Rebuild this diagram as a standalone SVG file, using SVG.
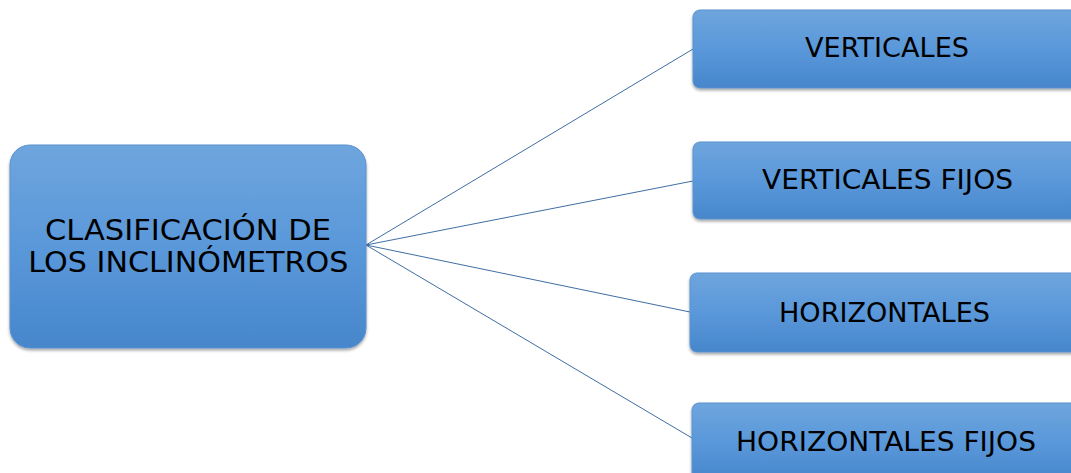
<svg xmlns="http://www.w3.org/2000/svg" width="1071" height="473" viewBox="0 0 1071 473">
  <defs>
    <linearGradient id="fill" x1="0" y1="0" x2="0" y2="1">
      <stop offset="0" stop-color="#6ea5dd"/>
      <stop offset="0.5" stop-color="#5a98da"/>
      <stop offset="1" stop-color="#4786cb"/>
    </linearGradient>
    <filter id="shadow" x="-5%" y="-10%" width="110%" height="125%">
      <feGaussianBlur in="SourceAlpha" stdDeviation="1.5"/>
      <feOffset dx="0" dy="1.5" result="b"/>
      <feComponentTransfer><feFuncA type="linear" slope="0.35"/></feComponentTransfer>
      <feMerge><feMergeNode/><feMergeNode in="SourceGraphic"/></feMerge>
    </filter>
  </defs>
  <style>
    .box { fill: url(#fill); stroke: #5b92cf; stroke-width: 1; filter: url(#shadow); }
    .lbl { font-family: "DejaVu Sans", Verdana, sans-serif; fill: #000; text-anchor: middle; }
    .edge { stroke: #3f6fa3; stroke-width: 1; fill: none; }
  </style>
  <rect width="1071" height="473" fill="#ffffff"/>

  <!-- connectors from the root node to each category -->
  <g id="connectors">
    <line class="edge" x1="366" y1="245" x2="693" y2="49"/>
    <line class="edge" x1="366" y1="245" x2="693" y2="181"/>
    <line class="edge" x1="366" y1="245" x2="690" y2="312"/>
    <line class="edge" x1="366" y1="245" x2="692" y2="438"/>
  </g>

  <g id="root">
    <rect class="box" x="10" y="145" width="356" height="203" rx="20"/>
    <text class="lbl" x="188" y="240" font-size="28.5" textLength="286" lengthAdjust="spacingAndGlyphs">CLASIFICACIÓN DE</text>
    <text class="lbl" x="188.3" y="271.5" font-size="28.5" textLength="320" lengthAdjust="spacingAndGlyphs">LOS INCLINÓMETROS</text>
  </g>

  <g id="verticales">
    <rect class="box" x="693" y="10" width="392" height="78" rx="7"/>
    <text class="lbl" x="887" y="57" font-size="26" textLength="164" lengthAdjust="spacingAndGlyphs">VERTICALES</text>
  </g>

  <g id="verticales-fijos">
    <rect class="box" x="693" y="142" width="392" height="77" rx="7"/>
    <text class="lbl" x="887.5" y="188.5" font-size="26" textLength="251" lengthAdjust="spacingAndGlyphs">VERTICALES FIJOS</text>
  </g>

  <g id="horizontales">
    <rect class="box" x="690" y="273" width="392" height="79" rx="7"/>
    <text class="lbl" x="884.5" y="321.5" font-size="26" textLength="211" lengthAdjust="spacingAndGlyphs">HORIZONTALES</text>
  </g>

  <g id="horizontales-fijos">
    <rect class="box" x="692" y="403" width="392" height="78" rx="7"/>
    <text class="lbl" x="886" y="451" font-size="26" textLength="300" lengthAdjust="spacingAndGlyphs">HORIZONTALES FIJOS</text>
  </g>
</svg>
